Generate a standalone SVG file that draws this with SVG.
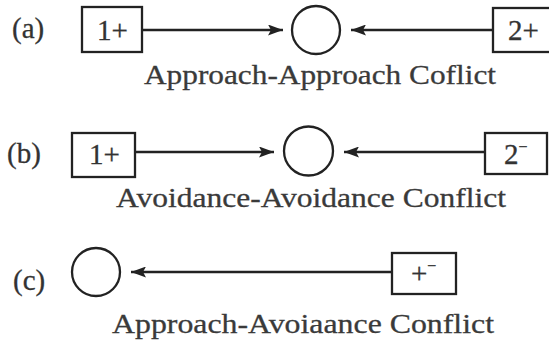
<svg xmlns="http://www.w3.org/2000/svg" width="549" height="345" viewBox="0 0 549 345">
<defs>
<style>
.box{fill:#fff;stroke:#222;stroke-width:2.3}
.node{fill:none;stroke:#222;stroke-width:2.3}
.line{stroke:#222;stroke-width:2.4;fill:none}
.lbl{font-size:29px;fill:#333;stroke:#333;stroke-width:0.3}
.cap{font-size:28px;fill:#3a3a3a;stroke:#3a3a3a;stroke-width:0.3}
</style>
<marker id="ah" viewBox="0 0 15 11" refX="15" refY="5.5" markerWidth="15" markerHeight="11" markerUnits="userSpaceOnUse" orient="auto">
<path d="M0,0 L15,5.5 L0,11 L3,5.5 Z" fill="#222"/>
</marker>
</defs>
<rect width="549" height="345" fill="#fff"/>
<g id="connectors">
<line class="line" x1="142" y1="30" x2="283" y2="30" marker-end="url(#ah)"/>
<line class="line" x1="493" y1="30" x2="351" y2="30" marker-end="url(#ah)"/>
<line class="line" x1="135" y1="152" x2="274" y2="152" marker-end="url(#ah)"/>
<line class="line" x1="485" y1="152" x2="344" y2="152" marker-end="url(#ah)"/>
<line class="line" x1="392" y1="272" x2="131" y2="272" marker-end="url(#ah)"/>
</g>
<g font-family="Liberation Serif, serif">
<g id="label-a"><text class="lbl" x="12" y="38" font-size="31">(a)</text></g>
<g id="a-box1"><rect class="box" x="82" y="7" width="60" height="45"/><text class="lbl" x="97" y="40">1+</text></g>
<g id="a-circle"><circle class="node" cx="316" cy="30" r="24"/></g>
<g id="a-box2"><rect class="box" x="493" y="8" width="62" height="44"/><text class="lbl" x="508" y="40">2+</text></g>
<g id="caption-a"><text class="cap" x="144" y="84" textLength="352" lengthAdjust="spacingAndGlyphs">Approach-Approach Coflict</text></g>

<g id="label-b"><text class="lbl" x="7" y="163" font-size="33">(b)</text></g>
<g id="b-box1"><rect class="box" x="72" y="133" width="63" height="44"/><text class="lbl" x="89" y="164">1+</text></g>
<g id="b-circle"><circle class="node" cx="308.5" cy="151" r="24.5"/></g>
<g id="b-box2"><rect class="box" x="485" y="133" width="62" height="41"/><text class="lbl" x="504" y="164">2<tspan font-size="16" dy="-12">−</tspan></text></g>
<g id="caption-b"><text class="cap" x="116" y="207" textLength="390" lengthAdjust="spacingAndGlyphs">Avoidance-Avoidance Conflict</text></g>

<g id="label-c"><text class="lbl" x="13" y="290" font-size="30">(c)</text></g>
<g id="c-circle"><circle class="node" cx="96" cy="272" r="24"/></g>
<g id="c-box"><rect class="box" x="392" y="253" width="64" height="41"/><text class="lbl" x="411" y="283">+<tspan font-size="16" dy="-12">−</tspan></text></g>
<g id="caption-c"><text class="cap" x="112" y="333" textLength="382" lengthAdjust="spacingAndGlyphs">Approach-Avoiaance Conflict</text></g>
</g>
</svg>
